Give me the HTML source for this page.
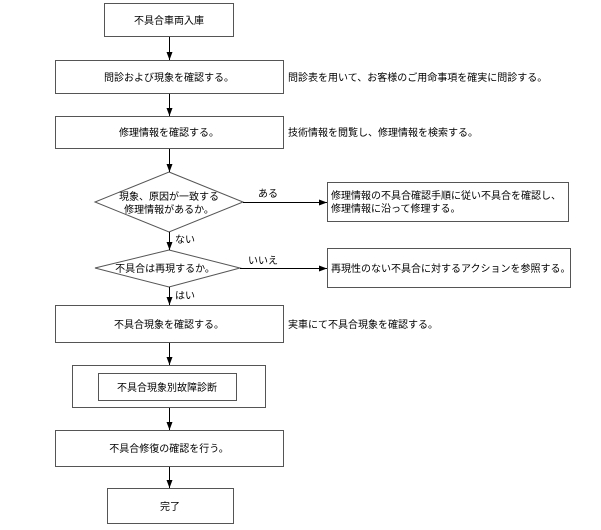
<!DOCTYPE html>
<html><head><meta charset="utf-8"><style>
html,body{margin:0;padding:0;background:#fff;}
svg text{font-family:"Liberation Sans","Noto Sans CJK JP",sans-serif;font-size:10px;fill:#000;}
</style></head><body>
<svg width="601" height="525" viewBox="0 0 601 525" xmlns="http://www.w3.org/2000/svg">
<defs><marker id="a" markerWidth="8" markerHeight="6" refX="8" refY="3" orient="auto" markerUnits="userSpaceOnUse"><path d="M0,0 L8,3 L0,6 z" fill="#000"/></marker></defs>
<g fill="#fff" stroke="#555" stroke-width="1">
<rect x="104.5" y="3.5" width="129" height="33"/>
<rect x="55.5" y="60.5" width="228" height="33"/>
<rect x="55.5" y="116.5" width="228" height="32"/>
<polygon points="169,172 243,202 169,232 95,202"/>
<polygon points="169,250 240,268 169,287 95,268"/>
<rect x="327.5" y="182.5" width="241" height="39"/>
<rect x="327.5" y="248.5" width="243" height="39"/>
<rect x="55.5" y="305.5" width="228" height="37"/>
<rect x="72.5" y="365.5" width="193" height="42"/>
<rect x="98.5" y="373.5" width="138" height="27"/>
<rect x="55.5" y="430.5" width="228" height="36"/>
<rect x="107.5" y="488.5" width="126" height="35"/>
</g>
<g stroke="#000" stroke-width="1" marker-end="url(#a)">
<line x1="169.5" y1="37" x2="169.5" y2="60"/>
<line x1="169.5" y1="94" x2="169.5" y2="116"/>
<line x1="169.5" y1="149" x2="169.5" y2="172"/>
<line x1="169.5" y1="232" x2="169.5" y2="250"/>
<line x1="169.5" y1="287" x2="169.5" y2="305"/>
<line x1="169.5" y1="343" x2="169.5" y2="365"/>
<line x1="169.5" y1="408" x2="169.5" y2="430"/>
<line x1="169.5" y1="467" x2="169.5" y2="488"/>
<line x1="243" y1="202.5" x2="327" y2="202.5"/>
<line x1="240" y1="268.5" x2="327" y2="268.5"/>
</g>
<g text-anchor="middle">
<text x="169" y="24">不具合車両入庫</text>
<text x="169" y="81">問診および現象を確認する。</text>
<text x="169" y="136">修理情報を確認する。</text>
<text x="169" y="200">現象、原因が一致する</text>
<text x="169" y="213">修理情報があるか。</text>
<text x="165" y="272">不具合は再現するか。</text>
<text x="169" y="328">不具合現象を確認する。</text>
<text x="167" y="391">不具合現象別故障診断</text>
<text x="169" y="452">不具合修復の確認を行う。</text>
<text x="170" y="510">完了</text>
</g>
<text x="288" y="81">問診表を用いて、お客様のご用命事項を確実に問診する。</text>
<text x="288" y="136">技術情報を閲覧し、修理情報を検索する。</text>
<text x="288" y="328">実車にて不具合現象を確認する。</text>
<text x="258" y="197">ある</text>
<text x="248" y="264">いいえ</text>
<text x="175" y="243">ない</text>
<text x="175" y="299">はい</text>
<text x="331" y="199">修理情報の不具合確認手順に従い不具合を確認し、</text>
<text x="331" y="212">修理情報に沿って修理する。</text>
<text x="331" y="272">再現性のない不具合に対するアクションを参照する。</text>
</svg>
</body></html>
